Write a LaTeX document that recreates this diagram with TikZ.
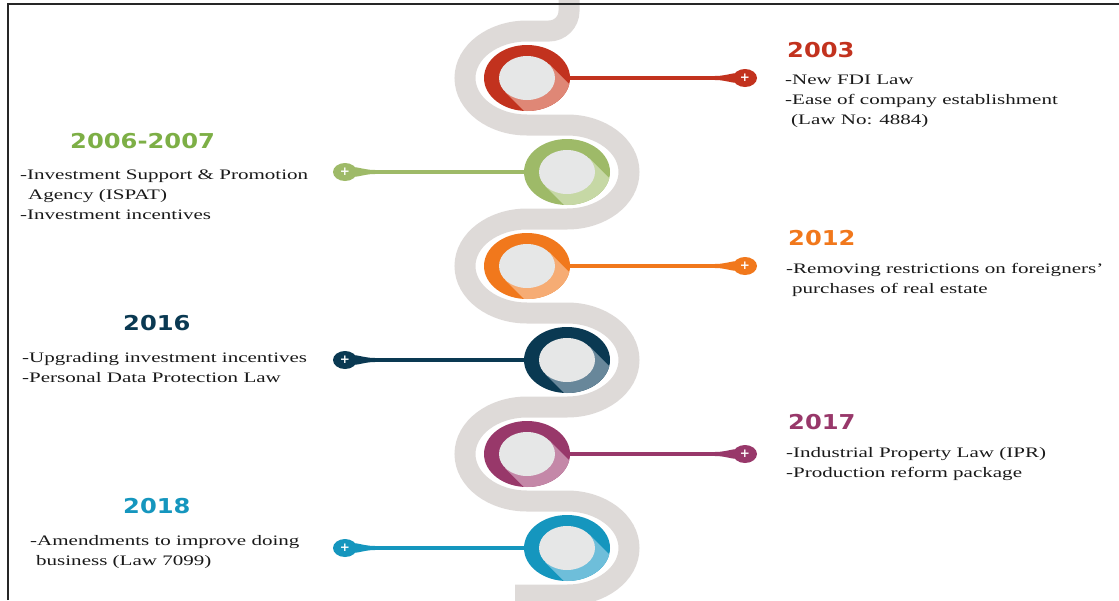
\documentclass[tikz,border=0pt]{standalone}
\usepackage{fontspec}
\setmainfont{Liberation Serif}
\newfontfamily\bodyfont[FakeStretch=1.45]{Liberation Serif}
\newfontfamily\yearfont[FakeStretch=1.18]{DejaVu Sans}
\newfontfamily\plusfont{DejaVu Sans}
\usepackage{xcolor}
\usetikzlibrary{shapes.geometric, positioning, calc}

\definecolor{snakegray}{RGB}{222,218,216}
\definecolor{hubgray}{RGB}{230,231,231}
\definecolor{redD}{RGB}{194,50,30}
\definecolor{redL}{RGB}{223,135,118}
\definecolor{greenD}{RGB}{158,186,104}
\definecolor{greenL}{RGB}{198,216,165}
\definecolor{greenT}{RGB}{125,175,70}
\definecolor{orangeD}{RGB}{241,120,28}
\definecolor{orangeL}{RGB}{246,172,116}
\definecolor{navyD}{RGB}{10,57,82}
\definecolor{navyL}{RGB}{104,135,154}
\definecolor{plumD}{RGB}{152,56,106}
\definecolor{plumL}{RGB}{196,136,168}
\definecolor{tealD}{RGB}{21,150,190}
\definecolor{tealL}{RGB}{110,190,218}

\begin{document}
\begin{tikzpicture}[
  x=1pt, y=-1pt,
  snake/.style={draw=snakegray, line width=21pt},
  ring/.style 2 args={ellipse, minimum width=86pt, minimum height=66pt, inner sep=0pt, fill=#1,
    path picture={
      \fill[#2, shift={(path picture bounding box.center)}] (22,-14) -- (80,44) -- (36,72) -- (-22,14) -- cycle;
      \fill[hubgray] (path picture bounding box.center) ellipse [x radius=28pt, y radius=22pt];}},
  marker/.style={ellipse, fill=#1, minimum width=24pt, minimum height=18pt, inner sep=0pt, text=white, font=\plusfont\bfseries\fontsize{12}{12}\selectfont},
  link/.style={draw=#1, line width=4pt},
  year/.style={anchor=base west, inner sep=0pt, text=#1, font=\yearfont\bfseries\fontsize{20.5}{24}\selectfont},
  note/.style={anchor=base west, inner sep=0pt, align=left, text=black!90, font=\bodyfont\fontsize{14.5}{20}\selectfont}
]
  \useasboundingbox (0,0) rectangle (1119,600);

  % winding road
  \begin{scope}
    \clip (0,0) rectangle (1119,600);
    \draw[snake] (569,-5) -- (569,11) arc[start angle=0, end angle=-90, radius=20pt] -- (527,31)
      arc[start angle=90, end angle=270, x radius=62pt, y radius=47pt] -- (567,125)
      arc[start angle=90, end angle=-90, x radius=62pt, y radius=47pt] -- (527,219)
      arc[start angle=90, end angle=270, x radius=62pt, y radius=47pt] -- (567,313)
      arc[start angle=90, end angle=-90, x radius=62pt, y radius=47pt] -- (527,407)
      arc[start angle=90, end angle=270, x radius=62pt, y radius=47pt] -- (567,501)
      arc[start angle=90, end angle=-90, x radius=62pt, y radius=47pt] -- (515,595);
  \end{scope}
  \draw[line width=1.5pt, black!85] (8,600) -- (8,4) -- (1119,4);

  % 2003 (note anchored at its last baseline)
  \node[ring={redD}{redL}] (r2003) at (527,78) {};
  \node[marker=redD] (p2003) at (745,78) {+};
  \draw[link=redD] (r2003.east) -- (p2003);
  \fill[redD] ([xshift=-18pt,yshift=2pt]p2003.west) to[out=0,in=190] (p2003.155) -- (p2003.205) to[out=170,in=0] ([xshift=-18pt,yshift=-2pt]p2003.west) -- cycle;
  \node[year=redD] (y2003) at (787,57) {2003};
  \node[note] (t2003) at (785,124) {-New FDI Law\\-Ease of company establishment\\\hspace*{6pt}(Law No: 4884)};

  % 2006-2007
  \node[ring={greenD}{greenL}] (r2006) at (567,172) {};
  \node[marker=greenD] (p2006) at (345,172) {+};
  \draw[link=greenD] (p2006) -- (r2006.west);
  \fill[greenD] ([xshift=18pt,yshift=2pt]p2006.east) to[out=180,in=-10] (p2006.25) -- (p2006.-25) to[out=10,in=180] ([xshift=18pt,yshift=-2pt]p2006.east) -- cycle;
  \node[year=greenT] (y2006) at (70,148) {2006-2007};
  \node[note] (t2006) at (20,219) {-Investment Support \& Promotion\\\hspace*{8pt}Agency (ISPAT)\\-Investment incentives};

  % 2012
  \node[ring={orangeD}{orangeL}] (r2012) at (527,266) {};
  \node[marker=orangeD] (p2012) at (745,266) {+};
  \draw[link=orangeD] (r2012.east) -- (p2012);
  \fill[orangeD] ([xshift=-18pt,yshift=2pt]p2012.west) to[out=0,in=190] (p2012.155) -- (p2012.205) to[out=170,in=0] ([xshift=-18pt,yshift=-2pt]p2012.west) -- cycle;
  \node[year=orangeD] (y2012) at (788,245) {2012};
  \node[note] (t2012) at (786,293) {-Removing restrictions on foreigners’\\\hspace*{6pt}purchases of real estate};

  % 2016
  \node[ring={navyD}{navyL}] (r2016) at (567,360) {};
  \node[marker=navyD] (p2016) at (345,360) {+};
  \draw[link=navyD] (p2016) -- (r2016.west);
  \fill[navyD] ([xshift=18pt,yshift=2pt]p2016.east) to[out=180,in=-10] (p2016.25) -- (p2016.-25) to[out=10,in=180] ([xshift=18pt,yshift=-2pt]p2016.east) -- cycle;
  \node[year=navyD] (y2016) at (123,330) {2016};
  \node[note] (t2016) at (22,382) {-Upgrading investment incentives\\-Personal Data Protection Law};

  % 2017
  \node[ring={plumD}{plumL}] (r2017) at (527,454) {};
  \node[marker=plumD] (p2017) at (745,454) {+};
  \draw[link=plumD] (r2017.east) -- (p2017);
  \fill[plumD] ([xshift=-18pt,yshift=2pt]p2017.west) to[out=0,in=190] (p2017.155) -- (p2017.205) to[out=170,in=0] ([xshift=-18pt,yshift=-2pt]p2017.west) -- cycle;
  \node[year=plumD] (y2017) at (788,429) {2017};
  \node[note] (t2017) at (786,477) {-Industrial Property Law (IPR)\\-Production reform package};

  % 2018
  \node[ring={tealD}{tealL}] (r2018) at (567,548) {};
  \node[marker=tealD] (p2018) at (345,548) {+};
  \draw[link=tealD] (p2018) -- (r2018.west);
  \fill[tealD] ([xshift=18pt,yshift=2pt]p2018.east) to[out=180,in=-10] (p2018.25) -- (p2018.-25) to[out=10,in=180] ([xshift=18pt,yshift=-2pt]p2018.east) -- cycle;
  \node[year=tealD] (y2018) at (123,513) {2018};
  \node[note] (t2018) at (30,565) {-Amendments to improve doing\\\hspace*{6pt}business (Law 7099)};

\end{tikzpicture}
\end{document}
